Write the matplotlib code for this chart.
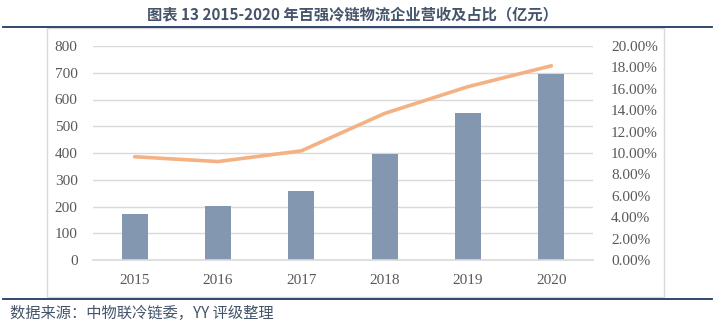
import matplotlib

matplotlib.use("Agg")
import matplotlib.pyplot as plt
from matplotlib.lines import Line2D
from matplotlib.patches import Rectangle
from matplotlib.ticker import FuncFormatter

plt.rcParams["font.family"] = ["Noto Sans CJK SC", "DejaVu Sans"]

# data
years = ["2015", "2016", "2017", "2018", "2019", "2020"]
revenue = [172, 202, 258, 396, 550, 695]          # 亿元
share = [9.65, 9.2, 10.2, 13.7, 16.2, 18.15]      # %

left_ticks = list(range(0, 801, 100))
right_ticks = list(range(0, 21, 2))

BAR_COLOR = "#8497B0"
LINE_COLOR = "#F4B183"
NAVY = "#1F3864"
TITLE_COLOR = "#44546A"
TICK_COLOR = "#595959"
GRID_COLOR = "#D9D9D9"

W, H = 720, 326
fig = plt.figure(figsize=(W / 100, H / 100), dpi=100)


def px(x0, y0, x1, y1):
    """pixel box (top-left origin) -> figure fraction rect"""
    return [x0 / W, 1 - y1 / H, (x1 - x0) / W, (y1 - y0) / H]


# frame decorations
fig.text(352 / W, 1 - 14 / H, "图表 13 2015-2020 年百强冷链物流企业营收及占比（亿元）",
         ha="center", va="center", fontsize=11, fontweight="bold",
         color=TITLE_COLOR)
fig.add_artist(Line2D([3 / W, 712 / W], [1 - 26.7 / H] * 2, color=NAVY, lw=1.3))
fig.add_artist(Line2D([3 / W, 712 / W], [1 - 299 / H] * 2, color=NAVY, lw=1.3))
fig.add_artist(Rectangle((47 / W, 1 - 297 / H), (664 - 47) / W, (297 - 28) / H,
                         transform=fig.transFigure, fill=False,
                         edgecolor="#D9D9D9", lw=1.0))
fig.text(10 / W, 1 - 313 / H, "数据来源：中物联冷链委，YY 评级整理",
         ha="left", va="center", fontsize=11, color=TITLE_COLOR)

ax = fig.add_axes(px(93, 46, 593, 260))
x = list(range(len(years)))
ax.bar(x, revenue, width=0.31, color=BAR_COLOR, zorder=2)
ax.set_xlim(-0.5, len(years) - 0.5)
ax.set_ylim(0, 800)
ax.set_yticks(left_ticks)
ax.set_xticks(x)
ax.set_xticklabels(years)
ax.grid(True, axis="y", color=GRID_COLOR, lw=1.0, zorder=0)
for s in ["top", "right", "left"]:
    ax.spines[s].set_visible(False)
ax.spines["bottom"].set_color("#D9D9D9")
ax.spines["bottom"].set_linewidth(1.2)
ax.tick_params(length=0, colors=TICK_COLOR, labelsize=11)
ax.tick_params(axis="y", pad=11)
ax.tick_params(axis="x", pad=10)
for lab in ax.get_xticklabels() + ax.get_yticklabels():
    lab.set_fontfamily("Liberation Serif")

ax2 = ax.twinx()
ax2.plot(x, share, color=LINE_COLOR, lw=2.6, solid_capstyle="round", zorder=3)
ax2.set_ylim(0, 20)
ax2.set_yticks(right_ticks)
ax2.yaxis.set_major_formatter(FuncFormatter(lambda v, _: f"{v:.2f}%"))
for s in ["top", "right", "left", "bottom"]:
    ax2.spines[s].set_visible(False)
ax2.tick_params(length=0, colors=TICK_COLOR, labelsize=11, pad=13)
for lab in ax2.get_yticklabels():
    lab.set_fontfamily("Liberation Serif")

fig.savefig("out.png", dpi=100)
